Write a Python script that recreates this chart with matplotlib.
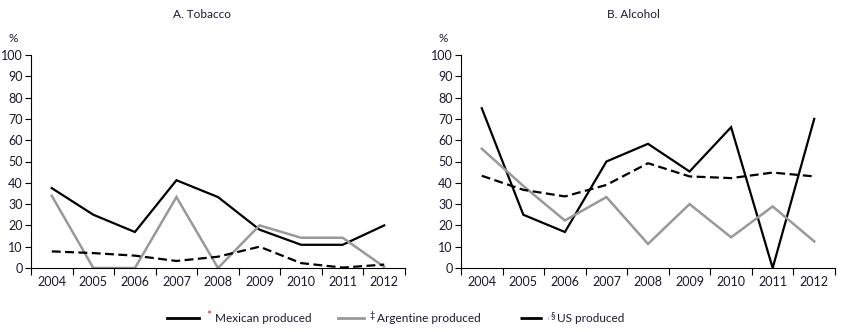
import numpy as np
import matplotlib
matplotlib.use("Agg")
import matplotlib.pyplot as plt
from matplotlib.lines import Line2D

plt.rcParams['font.family'] = ['Lato', 'DejaVu Sans']

years = ['2004', '2005', '2006', '2007', '2008', '2009', '2010', '2011', '2012']

# A. Tobacco
tob_mexican = [37.5, 25, 16.9, 41.2, 33.3, 18, 10.9, 10.9, 20]
tob_argentine = [33.9, 0, 0, 33.3, 0, 20, 14.2, 14.2, 0.5]
tob_us = [7.8, 7.0, 5.8, 3.3, 5.3, 10, 2.3, 0.2, 1.6]

# B. Alcohol
alc_mexican = [75, 25, 16.9, 50, 58.3, 45.3, 66.1, 0, 70]
alc_argentine = [56, 38.5, 22.3, 33.3, 11.3, 30, 14.4, 28.9, 12.5]
alc_us = [43.3, 36.7, 33.6, 39, 49.2, 43, 42.2, 44.8, 43]

TEXT = '#1a1a2e'
GRAY = '#999999'

fig = plt.figure(figsize=(8.43, 3.32), dpi=100)
ax1 = fig.add_axes([31 / 843, 1 - 268 / 332, 374 / 843, 213 / 332])
ax2 = fig.add_axes([461 / 843, 1 - 268 / 332, 374 / 843, 213 / 332])


def draw_panel(ax, mex, arg, us):
    x = np.arange(len(years))
    ax.plot(x, mex, color='black', lw=1.6, solid_joinstyle='miter')
    ax.plot(x, arg, color=GRAY, lw=1.8, solid_joinstyle='miter')
    ax.plot(x, us, color='black', lw=1.6, ls=(0, (4, 2)))
    ax.set_xlim(-0.5, len(years) - 0.5)
    ax.set_ylim(0, 100)
    ax.set_yticks(np.arange(0, 101, 10))
    ax.set_xticks(x)
    ax.set_xticklabels(years)
    ax.set_xticks(np.arange(-0.5, len(years)), minor=True)
    ax.tick_params(axis='x', which='major', length=0, pad=6, labelsize=9, labelcolor=TEXT)
    ax.tick_params(axis='x', which='minor', length=5, width=0.8, direction='out')
    ax.tick_params(axis='y', length=4, width=0.8, direction='out', pad=2, labelsize=9, labelcolor=TEXT)
    for s in ['top', 'right']:
        ax.spines[s].set_visible(False)
    for s in ['left', 'bottom']:
        ax.spines[s].set_linewidth(0.8)


draw_panel(ax1, tob_mexican, tob_argentine, tob_us)
draw_panel(ax2, alc_mexican, alc_argentine, alc_us)

fig.text(202 / 843, 1 - 15 / 332, 'A. Tobacco', ha='center', va='center', fontsize=8.5, color=TEXT)
fig.text(633 / 843, 1 - 15 / 332, 'B. Alcohol', ha='center', va='center', fontsize=8.5, color=TEXT)
fig.text(13 / 843, 1 - 39 / 332, '%', ha='center', va='center', fontsize=8.5, color=TEXT)
fig.text(443 / 843, 1 - 39 / 332, '%', ha='center', va='center', fontsize=8.5, color=TEXT)

# legend drawn by hand along the bottom
ly = 1 - 318 / 332
entries = [
    ((167, 199), dict(color='black', lw=2), '*', '#d62728', 8.5, 209, 'Mexican produced', 215),
    ((338, 364), dict(color=GRAY, lw=2), '\u2021', TEXT, 6.5, 372, 'Argentine produced', 377),
    ((520, 548), dict(color='black', lw=2, ls=(0, (8, 2))), '\u00a7', TEXT, 6.5, 553, 'US produced', 557),
]
for (x0, x1), style, sym, sym_col, sym_size, sx, label, tx in entries:
    fig.add_artist(Line2D([x0 / 843, x1 / 843], [ly, ly], transform=fig.transFigure, **style))
    fig.text(sx / 843, ly + 0.008, sym, ha='center', va='center', fontsize=sym_size, color=sym_col)
    fig.text(tx / 843, ly, label, ha='left', va='center', fontsize=8.5, color=TEXT)

fig.savefig('out.png', dpi=100)
